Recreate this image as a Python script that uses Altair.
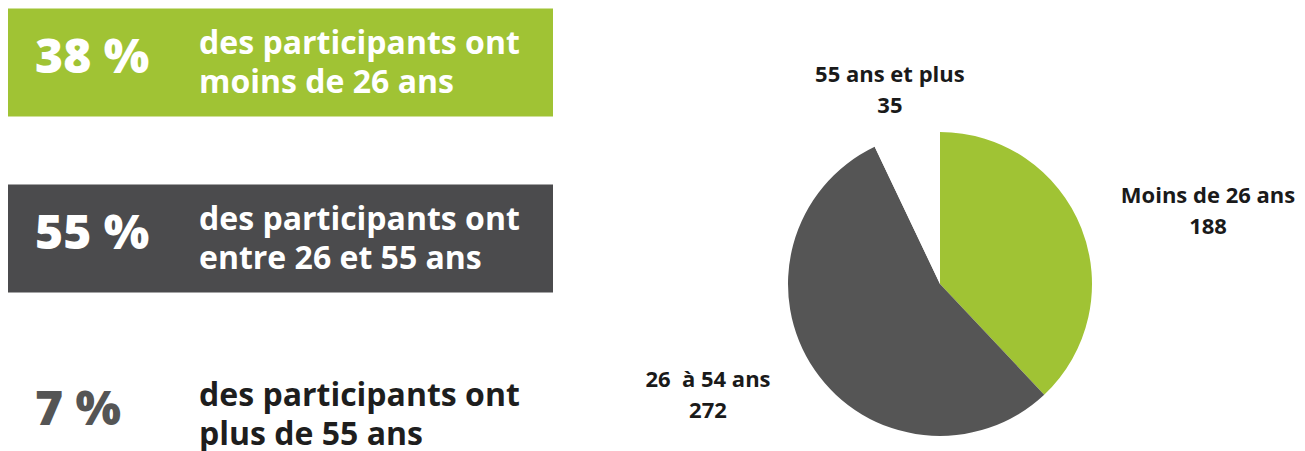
import altair as alt
import pandas as pd

# ---- data ----
pcts = ["38 %", "55 %", "7 %"]
descs = [
    "des participants ont\nmoins de 26 ans",
    "des participants ont\nentre 26 et 55 ans",
    "des participants ont\nplus de 55 ans",
]
categories = ["Moins de 26 ans", "26\u00a0 à 54 ans", "55 ans et plus"]
counts = [188, 272, 35]

# ---- styles ----
GREEN = "#a0c334"
BOX_DARK = "#4b4b4d"
PIE_GRAY = "#555555"
box_colors = [GREEN, BOX_DARK, "#ffffff"]
pct_colors = ["#ffffff", "#ffffff", "#555555"]
desc_colors = ["#ffffff", "#ffffff", "#1e1e1e"]
slice_colors = [GREEN, PIE_GRAY, "#ffffff"]

rows = pd.DataFrame({"pct": pcts, "desc": descs})
pie = pd.DataFrame({"idx": list(range(len(categories))), "category": categories, "count": counts})
total = int(sum(counts))

yscale = alt.Scale(domain=pcts, range=[-33.5, 494.5], paddingInner=0.3864, paddingOuter=0.1932)
Y = alt.Y("pct:N", scale=yscale, axis=None)

boxes = alt.Chart(rows).mark_rect().encode(
    y=Y,
    x=alt.value(0),
    x2=alt.value(545),
    color=alt.Color("pct:N", scale=alt.Scale(domain=pcts, range=box_colors), legend=None),
)

pct_text = alt.Chart(rows).mark_text(
    align="left", baseline="alphabetic", font="Open Sans", fontWeight=800, fontSize=48, dy=10
).encode(
    y=Y,
    x=alt.value(27),
    text="pct:N",
    color=alt.Color("pct:N", scale=alt.Scale(domain=pcts, range=pct_colors), legend=None),
)

desc_text = alt.Chart(rows).mark_text(
    align="left", baseline="alphabetic", font="Open Sans", fontWeight="bold", fontSize=32,
    lineHeight=39, lineBreak="\n", dy=-8.5
).encode(
    y=Y,
    x=alt.value(191),
    text="desc:N",
    color=alt.Color("pct:N", scale=alt.Scale(domain=pcts, range=desc_colors), legend=None),
)

CX, CY = 932, 276
theta_scale = alt.Scale(domain=[0, total])

arc = alt.Chart(pie).mark_arc(outerRadius=152).encode(
    theta=alt.Theta("count:Q", stack=True, scale=theta_scale),
    order=alt.Order("idx:Q"),
    color=alt.Color("category:N", scale=alt.Scale(domain=categories, range=slice_colors), legend=None),
    x=alt.value(CX),
    y=alt.value(CY),
)

label_specs = [(0, 283.7, 4.3, 23.7), (1, 249.7, -25.9, -38.1), (2, 208, -4.3, 0.9)]
labels = []
for i, r, dx, dy in label_specs:
    labels.append(
        alt.Chart(pie)
        .transform_window(cum="sum(count)", sort=[alt.SortField("idx")], frame=[None, 0])
        .transform_calculate(mid="datum.cum - datum.count/2", label="datum.category + '\\n' + datum.count")
        .transform_filter(f"datum.idx == {i}")
        .mark_text(
            radius=r, dx=dx, dy=dy, align="center", baseline="alphabetic", font="Open Sans",
            fontWeight="bold", fontSize=22, lineHeight=31, lineBreak="\n", color="#1a1a1a",
        )
        .encode(
            theta=alt.Theta("mid:Q", stack=None, scale=theta_scale),
            text="label:N",
            x=alt.value(CX),
            y=alt.value(CY),
        )
    )

chart = (
    alt.layer(boxes, pct_text, desc_text, arc, *labels)
    .resolve_scale(color="independent")
    .properties(width=1289, height=443, padding=0, autosize=alt.AutoSizeParams(type="none"),
                background="#ffffff")
    .configure_view(strokeWidth=0)
)

chart.save("out.html", embed_options={"renderer": "svg", "actions": False})
